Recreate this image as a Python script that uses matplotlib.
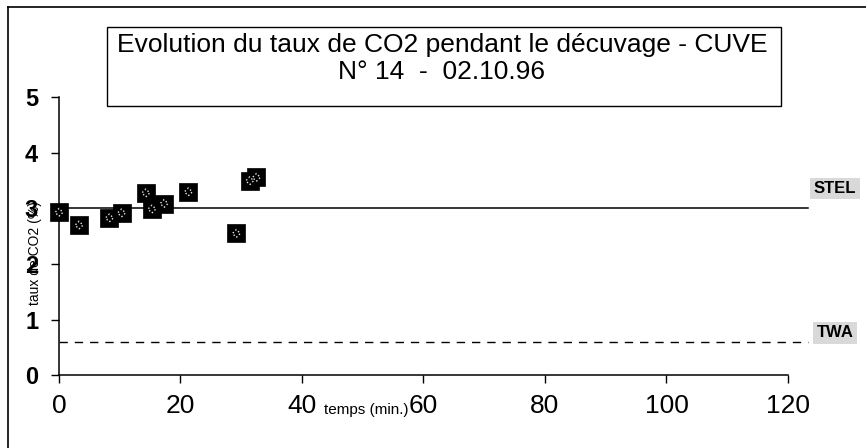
import matplotlib
matplotlib.use("Agg")
import matplotlib.pyplot as plt
from matplotlib.lines import Line2D

# CO2 readings during the emptying of tank 14
temps_min = [0, 3.3, 8.3, 10.3, 14.3, 15.3, 17.3, 21.3, 29.2, 31.4, 32.5]
taux_co2 = [2.93, 2.70, 2.83, 2.92, 3.28, 2.99, 3.09, 3.30, 2.55, 3.50, 3.56]

# Exposure limits (%)
stel_value = 3.0
twa_value = 0.6
limit_labels = ["STEL", "TWA"]

x_ticks = [0, 20, 40, 60, 80, 100, 120]
y_ticks = [0, 1, 2, 3, 4, 5]

title_lines = ["Evolution du taux de CO2 pendant le décuvage - CUVE",
               "N° 14  -  02.10.96"]

plt.rcParams['font.family'] = ['Liberation Sans', 'DejaVu Sans']

fig = plt.figure(figsize=(8.66, 4.48), dpi=100)
ax = fig.add_axes([0.0681, 0.1629, 0.8418, 0.6195])

# limit lines run a little past the axis end, up to their labels
ax.axhline(stel_value, xmin=0, xmax=1.027, color='black', lw=1.1, clip_on=False)
ax.axhline(twa_value, xmin=0, xmax=1.027, color='black', lw=1.0,
           ls=(0, (6, 5)), clip_on=False)

# measurement points: black squares with a light dotted centre
ax.scatter(temps_min, taux_co2, marker='s', s=150, facecolor='black',
           edgecolor='black', linewidths=0.5, zorder=3, clip_on=False)
ax.scatter(temps_min, taux_co2, marker='D', s=16, facecolor='none',
           edgecolor='#e6e6e6', linewidths=1.0, linestyle=':', zorder=4,
           clip_on=False)

ax.set_xlim(0, 120)
ax.set_ylim(0, 5)
ax.set_xticks(x_ticks)
ax.set_yticks(y_ticks)
ax.set_xticklabels([str(v) for v in x_ticks], fontsize=19)
ax.set_yticklabels([str(v) for v in y_ticks], fontsize=17, fontweight='bold')
ax.tick_params(axis='both', direction='out', length=6, width=1, color='black')
ax.tick_params(axis='x', pad=8)
ax.tick_params(axis='y', pad=9)
for side in ('top', 'right'):
    ax.spines[side].set_visible(False)
for side in ('left', 'bottom'):
    ax.spines[side].set_linewidth(1.1)

# axis titles placed where the spreadsheet put them
fig.text(35 / 866, 1 - 253 / 448, "taux de CO2 (%)", rotation=90,
         ha='center', va='center', fontsize=10)
fig.text(366 / 866, 1 - 410 / 448, "temps (min.)", ha='center', va='center',
         fontsize=11)

# limit labels on a grey stippled background, sitting above their lines
label_offsets_px = [20, 9]
for label, yv, off in zip(limit_labels, [stel_value, twa_value],
                          label_offsets_px):
    y_fig = ax.transData.transform((0, yv))[1]
    fig.text(835 / 866, (y_fig + off) / 448, label, ha='center', va='center',
             fontsize=12, fontweight='bold',
             bbox=dict(boxstyle='square,pad=0.2', facecolor='#d9d9d9',
                       edgecolor='none'))

# boxed title
box = plt.Rectangle((107 / 866, 1 - 106 / 448), (781 - 107) / 866,
                    (106 - 27) / 448, transform=fig.transFigure,
                    facecolor='white', edgecolor='black', lw=1.0, zorder=5)
fig.add_artist(box)
fig.text(442 / 866, 1 - 45 / 448, title_lines[0], ha='center', va='center',
         fontsize=19, zorder=6)
fig.text(442 / 866, 1 - 72 / 448, title_lines[1], ha='center', va='center',
         fontsize=19, zorder=6)

# outer chart frame (left and top edges)
fig.add_artist(Line2D([8 / 866, 8 / 866], [0, 1 - 7 / 448],
                      transform=fig.transFigure, color='black', lw=1.2))
fig.add_artist(Line2D([8 / 866, 1], [1 - 7 / 448, 1 - 7 / 448],
                      transform=fig.transFigure, color='black', lw=1.2))

fig.savefig("out.png", dpi=100)
